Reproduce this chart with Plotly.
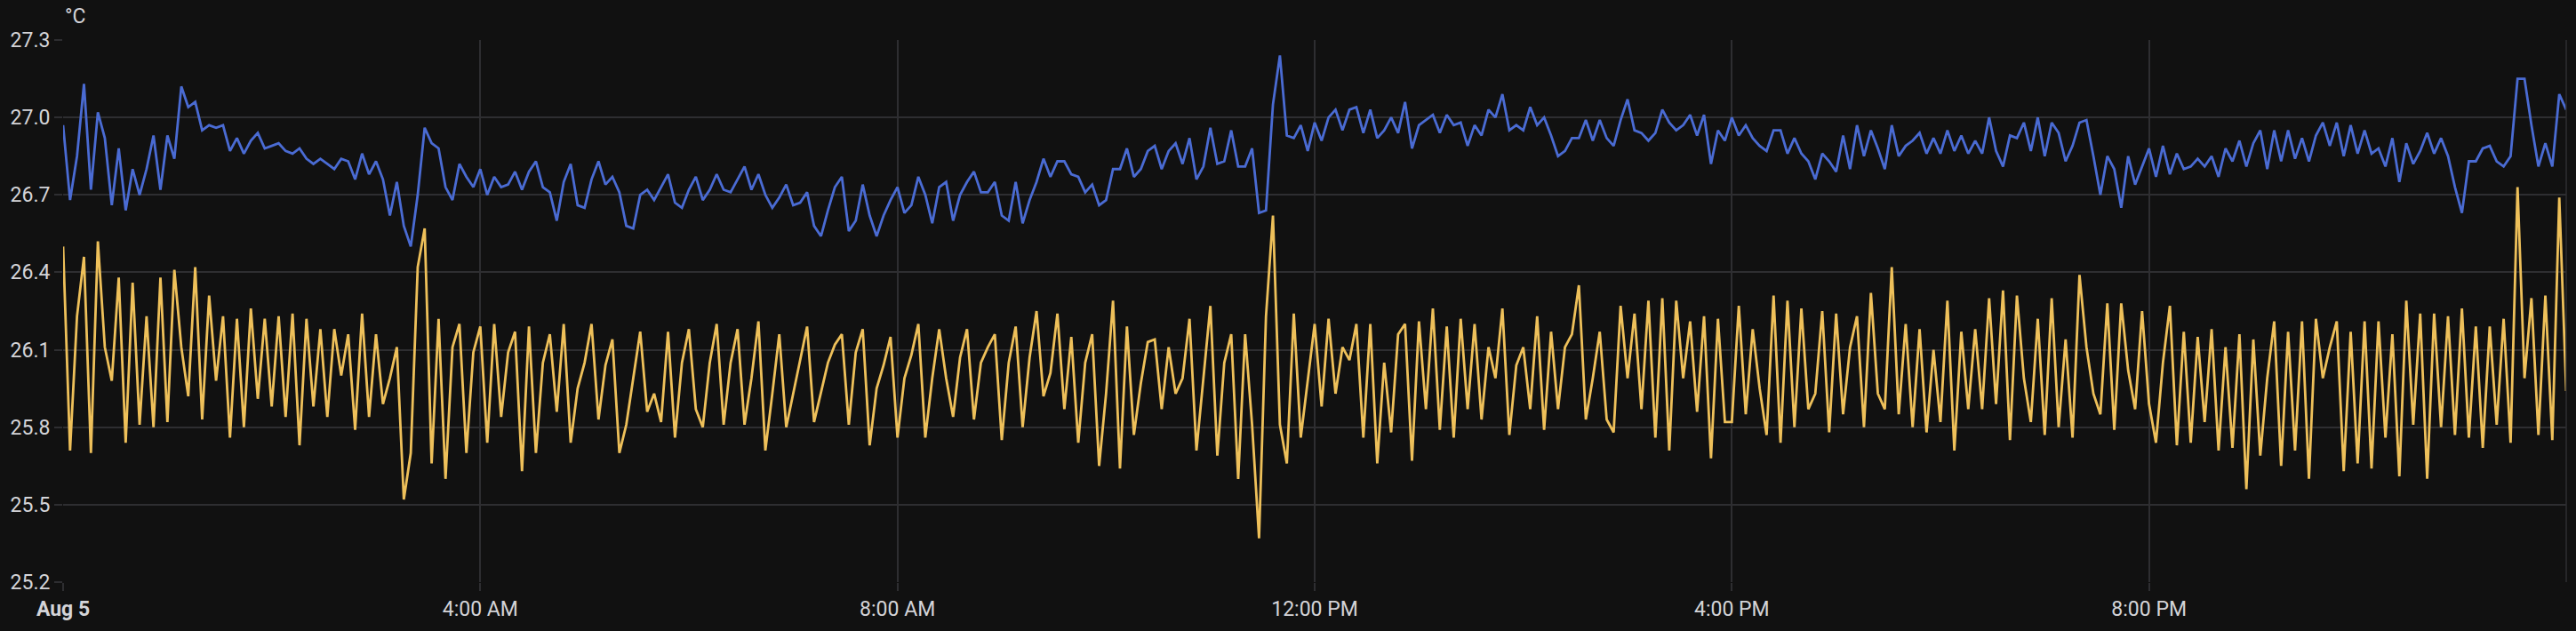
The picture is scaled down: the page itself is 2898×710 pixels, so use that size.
import pandas as pd
import plotly.graph_objects as go

# readings every 4 minutes over Aug 5 (361 samples, 00:00 -> 24:00)
start = "2025-08-05 00:00"
step = "4min"

blue_temp = [
    26.97, 26.68, 26.85, 27.13, 26.72, 27.02, 26.92, 26.66, 26.88, 26.64,
    26.80, 26.70, 26.80, 26.93, 26.72, 26.93, 26.84, 27.12, 27.04, 27.06,
    26.95, 26.97, 26.96, 26.97, 26.87, 26.92, 26.86, 26.91, 26.94, 26.88,
    26.89, 26.90, 26.87, 26.86, 26.88, 26.84, 26.82, 26.84, 26.82, 26.80,
    26.84, 26.83, 26.76, 26.86, 26.78, 26.83, 26.76, 26.62, 26.75, 26.58,
    26.50, 26.70, 26.96, 26.90, 26.88, 26.73, 26.68, 26.82, 26.77, 26.73,
    26.80, 26.70, 26.77, 26.73, 26.74, 26.79, 26.72, 26.79, 26.83, 26.73,
    26.71, 26.60, 26.75, 26.82, 26.66, 26.65, 26.76, 26.83, 26.74, 26.77,
    26.71, 26.58, 26.57, 26.70, 26.72, 26.68, 26.73, 26.78, 26.67, 26.65,
    26.72, 26.77, 26.68, 26.72, 26.78, 26.72, 26.71, 26.76, 26.81, 26.72,
    26.78, 26.70, 26.65, 26.69, 26.74, 26.66, 26.67, 26.71, 26.58, 26.54,
    26.64, 26.73, 26.77, 26.56, 26.60, 26.74, 26.62, 26.54, 26.62, 26.68,
    26.73, 26.63, 26.66, 26.77, 26.70, 26.59, 26.73, 26.75, 26.60, 26.70,
    26.75, 26.79, 26.71, 26.71, 26.75, 26.62, 26.60, 26.75, 26.59, 26.68,
    26.75, 26.84, 26.77, 26.83, 26.83, 26.78, 26.77, 26.71, 26.74, 26.66,
    26.68, 26.80, 26.80, 26.88, 26.77, 26.80, 26.87, 26.89, 26.80, 26.87,
    26.90, 26.82, 26.92, 26.76, 26.81, 26.96, 26.82, 26.83, 26.95, 26.81,
    26.81, 26.88, 26.63, 26.64, 27.05, 27.24, 26.93, 26.92, 26.97, 26.87,
    26.98, 26.91, 27.00, 27.03, 26.95, 27.03, 27.04, 26.94, 27.03, 26.92,
    26.95, 27.00, 26.94, 27.06, 26.88, 26.97, 26.99, 27.01, 26.94, 27.01,
    26.97, 26.98, 26.89, 26.97, 26.93, 27.03, 27.00, 27.09, 26.95, 26.97,
    26.95, 27.04, 26.97, 27.00, 26.93, 26.85, 26.87, 26.92, 26.92, 26.99,
    26.91, 26.99, 26.92, 26.89, 26.99, 27.07, 26.95, 26.94, 26.91, 26.94,
    27.03, 26.98, 26.95, 26.97, 27.01, 26.93, 27.01, 26.82, 26.95, 26.91,
    27.00, 26.93, 26.97, 26.92, 26.89, 26.87, 26.95, 26.95, 26.86, 26.92,
    26.86, 26.83, 26.76, 26.86, 26.83, 26.79, 26.93, 26.80, 26.97, 26.85,
    26.95, 26.88, 26.80, 26.97, 26.85, 26.89, 26.91, 26.94, 26.86, 26.92,
    26.86, 26.95, 26.87, 26.93, 26.86, 26.91, 26.86, 27.00, 26.87, 26.81,
    26.93, 26.92, 26.98, 26.87, 27.00, 26.85, 26.98, 26.94, 26.83, 26.89,
    26.98, 26.99, 26.85, 26.70, 26.85, 26.80, 26.65, 26.85, 26.74, 26.81,
    26.88, 26.77, 26.89, 26.78, 26.86, 26.80, 26.81, 26.84, 26.81, 26.85,
    26.77, 26.88, 26.83, 26.91, 26.81, 26.90, 26.95, 26.80, 26.95, 26.83,
    26.95, 26.84, 26.92, 26.83, 26.93, 26.98, 26.89, 26.98, 26.85, 26.97,
    26.86, 26.95, 26.86, 26.88, 26.81, 26.92, 26.75, 26.90, 26.82, 26.87,
    26.94, 26.86, 26.92, 26.85, 26.73, 26.63, 26.83, 26.83, 26.88, 26.89,
    26.83, 26.81, 26.85, 27.15, 27.15, 26.97, 26.81, 26.90, 26.81, 27.09,
    27.03,
]

yellow_temp = [
    26.50, 25.71, 26.23, 26.46, 25.70, 26.52, 26.11, 25.98, 26.38, 25.74,
    26.36, 25.81, 26.23, 25.80, 26.38, 25.82, 26.41, 26.11, 25.92, 26.42,
    25.83, 26.31, 25.98, 26.23, 25.76, 26.22, 25.80, 26.26, 25.91, 26.22,
    25.88, 26.23, 25.84, 26.24, 25.73, 26.22, 25.88, 26.18, 25.84, 26.18,
    26.00, 26.16, 25.79, 26.24, 25.84, 26.16, 25.89, 25.99, 26.11, 25.52,
    25.70, 26.42, 26.57, 25.66, 26.22, 25.60, 26.11, 26.20, 25.70, 26.09,
    26.19, 25.74, 26.20, 25.84, 26.09, 26.17, 25.63, 26.19, 25.70, 26.05,
    26.16, 25.86, 26.20, 25.74, 25.95, 26.05, 26.20, 25.83, 26.04, 26.14,
    25.70, 25.81, 25.99, 26.17, 25.86, 25.93, 25.82, 26.17, 25.76, 26.05,
    26.18, 25.87, 25.80, 26.05, 26.20, 25.81, 26.05, 26.18, 25.81, 25.99,
    26.21, 25.71, 25.93, 26.16, 25.80, 25.93, 26.05, 26.19, 25.82, 25.93,
    26.05, 26.12, 26.16, 25.81, 26.09, 26.18, 25.73, 25.95, 26.04, 26.15,
    25.76, 25.99, 26.08, 26.20, 25.76, 25.99, 26.18, 25.99, 25.84, 26.07,
    26.18, 25.83, 26.05, 26.11, 26.16, 25.75, 26.05, 26.19, 25.80, 26.07,
    26.25, 25.92, 26.01, 26.24, 25.87, 26.15, 25.74, 26.05, 26.16, 25.65,
    25.93, 26.29, 25.64, 26.19, 25.77, 25.97, 26.13, 26.14, 25.87, 26.11,
    25.93, 25.99, 26.22, 25.71, 25.99, 26.27, 25.69, 26.05, 26.16, 25.60,
    26.16, 25.81, 25.37, 26.23, 26.62, 25.81, 25.66, 26.24, 25.76, 25.97,
    26.20, 25.88, 26.22, 25.93, 26.11, 26.06, 26.20, 25.76, 26.20, 25.66,
    26.05, 25.78, 26.16, 26.20, 25.67, 26.21, 25.87, 26.26, 25.79, 26.19,
    25.76, 26.22, 25.87, 26.20, 25.83, 26.11, 25.99, 26.26, 25.77, 26.04,
    26.11, 25.87, 26.23, 25.79, 26.17, 25.87, 26.11, 26.16, 26.35, 25.83,
    25.99, 26.17, 25.83, 25.78, 26.27, 25.99, 26.24, 25.87, 26.29, 25.76,
    26.30, 25.71, 26.29, 25.99, 26.21, 25.86, 26.23, 25.68, 26.22, 25.82,
    25.82, 26.27, 25.85, 26.18, 25.95, 25.77, 26.31, 25.74, 26.29, 25.80,
    26.26, 25.87, 25.93, 26.25, 25.78, 26.24, 25.85, 26.11, 26.23, 25.80,
    26.32, 25.93, 25.87, 26.42, 25.85, 26.20, 25.80, 26.18, 25.78, 26.10,
    25.82, 26.29, 25.71, 26.17, 25.87, 26.18, 25.87, 26.30, 25.89, 26.33,
    25.75, 26.31, 25.99, 25.82, 26.22, 25.77, 26.30, 25.80, 26.14, 25.76,
    26.39, 26.11, 25.93, 25.85, 26.28, 25.79, 26.28, 26.02, 25.87, 26.25,
    25.89, 25.74, 26.05, 26.27, 25.73, 26.17, 25.74, 26.15, 25.82, 26.18,
    25.71, 26.11, 25.72, 26.16, 25.56, 26.14, 25.69, 25.99, 26.21, 25.65,
    26.17, 25.71, 26.21, 25.60, 26.22, 25.99, 26.11, 26.21, 25.63, 26.17,
    25.66, 26.21, 25.64, 26.21, 25.76, 26.16, 25.61, 26.29, 25.81, 26.24,
    25.60, 26.24, 25.80, 26.23, 25.77, 26.26, 25.76, 26.19, 25.72, 26.19,
    25.81, 26.22, 25.74, 26.73, 25.99, 26.30, 25.77, 26.31, 25.75, 26.69,
    25.94,
]

tick_times = ["00:00", "04:00", "08:00", "12:00", "16:00", "20:00"]
tick_labels = ["<b>Aug 5</b>", "4:00 AM", "8:00 AM", "12:00 PM", "4:00 PM", "8:00 PM"]
y_ticks = [25.2, 25.5, 25.8, 26.1, 26.4, 26.7, 27.0, 27.3]

times = pd.date_range(start, periods=len(blue_temp), freq=step)
tickvals = [pd.Timestamp("2025-08-05 " + t) for t in tick_times]

bg = "#111111"
grid = "#2e2e31"
txt = "#d4d4d8"

fig = go.Figure()
fig.add_trace(go.Scatter(x=times, y=blue_temp, mode="lines",
                         line=dict(color="#4a6bd3", width=2.8), showlegend=False))
fig.add_trace(go.Scatter(x=times, y=yellow_temp, mode="lines",
                         line=dict(color="#eec05a", width=2.8), showlegend=False))

fig.update_xaxes(range=[times[0], times[-1]], tickvals=tickvals, ticktext=tick_labels,
                 showgrid=True, gridcolor=grid, gridwidth=1.5,
                 ticks="outside", ticklen=9, tickcolor=grid, tickwidth=1.5,
                 showline=False, zeroline=False,
                 tickfont=dict(family="Roboto", size=23, color=txt))
fig.update_yaxes(range=[25.2, 27.3], tickvals=y_ticks, tickformat=".1f",
                 showgrid=True, gridcolor=grid, gridwidth=1.5,
                 ticks="outside", ticklen=9, tickcolor=grid, tickwidth=1.5,
                 showline=False, zeroline=False,
                 tickfont=dict(family="Roboto", size=23, color=txt))

# right edge border line
fig.add_shape(type="line", xref="paper", yref="paper", x0=1, x1=1, y0=0, y1=1,
              line=dict(color=grid, width=1.5))

fig.add_annotation(text="°C", xref="paper", yref="paper", x=0, y=1,
                   xanchor="left", yanchor="middle", yshift=27, showarrow=False,
                   font=dict(family="Roboto", size=23, color=txt))

fig.update_layout(width=2898, height=710, paper_bgcolor=bg, plot_bgcolor=bg,
                  margin=dict(l=71, r=11, t=45, b=41), hovermode=False)

# drop the default page margin so the figure fills the window exactly
fig.write_html("out.html", config={"displayModeBar": False},
               post_script="document.body.style.margin='0';document.body.style.background='#111111';")
